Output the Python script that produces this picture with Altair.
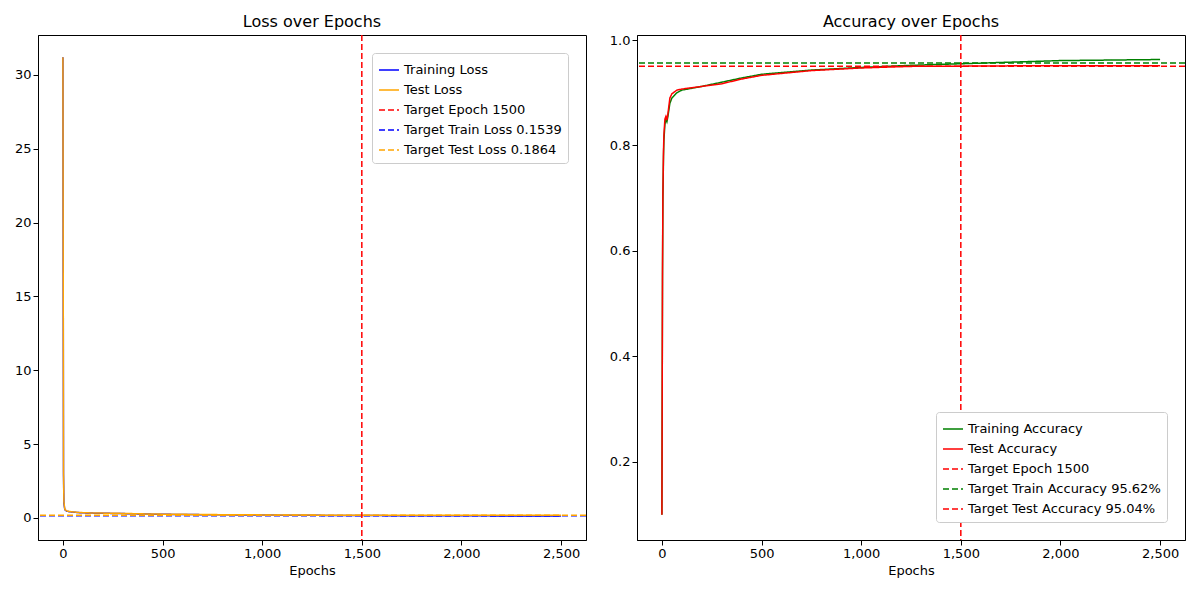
import altair as alt
import pandas as pd

ep = [0, 3, 5, 8, 10, 15, 20, 30, 50, 75, 100, 150, 200, 300, 400, 500, 750, 1000, 1250, 1500, 1750, 2000, 2250, 2500]
train_loss = [31.2, 3.0, 1.0, 0.7, 0.55, 0.5, 0.46, 0.43, 0.40, 0.37, 0.35, 0.33, 0.32, 0.30, 0.27, 0.25, 0.22, 0.20, 0.18, 0.165, 0.155, 0.148, 0.14, 0.13]
test_loss = [31.2, 3.2, 1.1, 0.75, 0.58, 0.52, 0.48, 0.44, 0.41, 0.38, 0.36, 0.34, 0.33, 0.31, 0.28, 0.26, 0.23, 0.21, 0.195, 0.186, 0.183, 0.182, 0.181, 0.18]
acc_ep = [0, 3, 5, 8, 10, 15, 20, 25, 30, 40, 50, 75, 100, 200, 300, 400, 500, 750, 1000, 1250, 1500, 1750, 2000, 2250, 2500]
train_acc = [0.10, 0.55, 0.70, 0.78, 0.81, 0.84, 0.85, 0.845, 0.855, 0.88, 0.89, 0.900, 0.905, 0.912, 0.920, 0.928, 0.935, 0.943, 0.948, 0.952, 0.955, 0.958, 0.961, 0.962, 0.963]
test_acc = [0.10, 0.56, 0.71, 0.79, 0.82, 0.85, 0.855, 0.848, 0.86, 0.89, 0.898, 0.905, 0.907, 0.912, 0.917, 0.926, 0.933, 0.942, 0.947, 0.950, 0.9504, 0.951, 0.951, 0.951, 0.951]
target_epoch = 1500
target_train_loss, target_test_loss = 0.1539, 0.1864
target_train_acc, target_test_acc = 0.9562, 0.9504

loss_names = ["Training Loss", "Test Loss", "Target Epoch 1500", "Target Train Loss 0.1539", "Target Test Loss 0.1864"]
acc_names = ["Training Accuracy", "Test Accuracy", "Target Epoch 1500", "Target Train Accuracy 95.62%", "Target Test Accuracy 95.04%"]
loss_colors = ["blue", "orange", "red", "blue", "orange"]
acc_colors = ["green", "red", "red", "green", "red"]
dashes = [[1, 0], [1, 0], [6, 3], [6, 3], [6, 3]]

W, H = 548, 505
font = "DejaVu Sans"

def panel(names, colors, ep_list, s1, s2, t1, t2, title, ydom, yvals, yfmt, lorient):
    lines = pd.DataFrame({"Epoch": ep_list * 2, "v": s1 + s2,
                          "s": [names[0]] * len(ep_list) + [names[1]] * len(ep_list)})
    col = alt.Color("s:N", scale=alt.Scale(domain=names, range=colors),
                    legend=alt.Legend(title=None, orient=lorient, symbolType="stroke",
                                      labelFontSize=13, labelFont=font, symbolSize=400,
                                      symbolStrokeWidth=1.5, fillColor="white",
                                      strokeColor="#cccccc", padding=6, cornerRadius=3,
                                      labelLimit=300))
    dash = alt.StrokeDash("s:N", scale=alt.Scale(domain=names, range=dashes), legend=None)
    x = alt.X("Epoch:Q", scale=alt.Scale(domain=[-125, 2625], nice=False, zero=False),
              axis=alt.Axis(values=[0, 500, 1000, 1500, 2000, 2500], title="Epochs"))
    y = alt.Y("v:Q", scale=alt.Scale(domain=ydom, nice=False, zero=False),
              axis=alt.Axis(values=yvals, format=yfmt, title=None))
    l = alt.Chart(lines).mark_line(strokeWidth=1.5, clip=True).encode(x=x, y=y, color=col, strokeDash=dash)
    vr = alt.Chart(pd.DataFrame({"Epoch": [target_epoch], "s": [names[2]]})).mark_rule(strokeWidth=1.5).encode(
        x="Epoch:Q", color=col, strokeDash=dash)
    hr = alt.Chart(pd.DataFrame({"v": [t1, t2], "s": [names[3], names[4]]})).mark_rule(strokeWidth=1.5).encode(
        y="v:Q", color=col, strokeDash=dash)
    return alt.layer(l, vr, hr).properties(width=W, height=H,
        title=alt.Title(title, fontSize=16, fontWeight="normal", font=font))

left = panel(loss_names, loss_colors, ep, train_loss, test_loss, target_train_loss, target_test_loss,
             "Loss over Epochs", [-1.49, 32.7], [0, 5, 10, 15, 20, 25, 30], "d", "top-right")
right = panel(acc_names, acc_colors, acc_ep, train_acc, test_acc, target_train_acc, target_test_acc,
              "Accuracy over Epochs", [0.052, 1.0095], [0.2, 0.4, 0.6, 0.8, 1.0], ".1f", "bottom-right")

chart = alt.hconcat(left, right, spacing=20).resolve_scale(
    color="independent", strokeDash="independent", x="independent", y="independent"
).configure_view(stroke="black", strokeWidth=1).configure_axis(
    grid=False, labelFont=font, titleFont=font, labelFontSize=13, titleFontSize=13,
    titleFontWeight="normal", domainColor="black", tickColor="black", labelColor="black"
).properties(padding={"left": 5, "top": 5, "right": 5, "bottom": 5})

chart.save("out.html", embed_options={"renderer": "svg", "actions": False})
